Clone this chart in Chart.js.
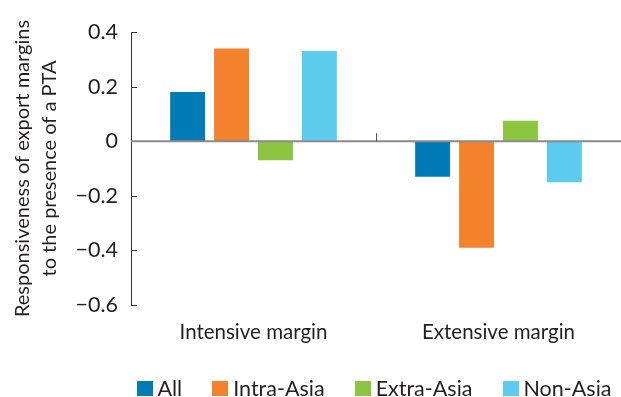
<!DOCTYPE html>
<html>
<head>
<meta charset="utf-8">
<script src="https://cdn.jsdelivr.net/npm/chart.js@4/dist/chart.umd.min.js"></script>
<style>
  html, body { margin: 0; padding: 0; background: #ffffff; }
  #wrap { width: 621px; height: 397px; position: relative; }
</style>
</head>
<body>
<div id="wrap"><canvas id="chart" width="621" height="397"></canvas></div>
<script>
// Responsiveness of export margins to a PTA, by trade partner group
const categories = ['Intensive margin', 'Extensive margin'];
const seriesNames = ['All', 'Intra-Asia', 'Extra-Asia', 'Non-Asia'];
const allValues = [0.18, -0.13];
const intraAsiaValues = [0.34, -0.39];
const extraAsiaValues = [-0.07, 0.075];
const nonAsiaValues = [0.33, -0.15];
const yTickValues = [0.4, 0.2, 0, -0.2, -0.4, -0.6];
const yTitleLines = ['Responsiveness of export margins', 'to the presence of a PTA'];

const seriesColors = ['#007bb6', '#f4812c', '#8cc540', '#5dcbee'];
const FONT = 'Lato, "DejaVu Sans", sans-serif';
const TEXT = '#231f20';

const seriesValues = [allValues, intraAsiaValues, extraAsiaValues, nonAsiaValues];

function fmtTick(v) {
  if (Math.abs(v) < 1e-9) return '0';
  return (v < 0 ? '\u2212' : '') + Math.abs(v).toFixed(1);
}

// Short inward tick marks on the value axis, the zero line and the category divider
const axisMarks = {
  id: 'axisMarks',
  afterDatasetsDraw(chart) {
    const { ctx, chartArea, scales: { x, y } } = chart;
    ctx.save();
    ctx.strokeStyle = '#333333';
    ctx.lineWidth = 1;
    y.ticks.forEach(t => {
      if (Math.abs(t.value) < 1e-9) return;
      const py = Math.round(y.getPixelForValue(t.value)) + 0.5;
      ctx.beginPath();
      ctx.moveTo(chartArea.left, py);
      ctx.lineTo(chartArea.left + 6, py);
      ctx.stroke();
    });
    const y0 = y.getPixelForValue(0);
    ctx.strokeStyle = '#8a8a8a';
    ctx.lineWidth = 2;
    ctx.beginPath();
    ctx.moveTo(chartArea.left, y0);
    ctx.lineTo(chartArea.right, y0);
    ctx.stroke();
    const xDiv = Math.round((x.getPixelForValue(0) + x.getPixelForValue(1)) / 2) + 0.5;
    ctx.strokeStyle = '#555555';
    ctx.lineWidth = 1;
    ctx.beginPath();
    ctx.moveTo(xDiv, y0);
    ctx.lineTo(xDiv, y0 - 8);
    ctx.stroke();
    ctx.restore();
  }
};

// Key row along the bottom edge
const bottomKey = {
  id: 'bottomKey',
  afterDraw(chart) {
    const { ctx, chartArea } = chart;
    ctx.save();
    ctx.font = '21.5px ' + FONT;
    const box = 16, boxGap = 5, itemGap = 30;
    const items = chart.data.datasets.map(d => ({
      label: d.label,
      color: d.backgroundColor,
      w: box + boxGap + ctx.measureText(d.label).width
    }));
    const total = items.reduce((s, it) => s + it.w, 0) + itemGap * (items.length - 1);
    let x = (chartArea.left + chartArea.right) / 2 - total / 2 - 2;
    const cy = chart.height - 8.5;
    items.forEach(it => {
      ctx.fillStyle = it.color;
      ctx.fillRect(Math.round(x), Math.round(cy - 7.5), box, 15);
      ctx.fillStyle = TEXT;
      ctx.textBaseline = 'middle';
      ctx.textAlign = 'left';
      ctx.fillText(it.label, x + box + boxGap, cy + 1);
      x += it.w + itemGap;
    });
    ctx.restore();
  }
};

new Chart(document.getElementById('chart'), {
  type: 'bar',
  data: {
    labels: categories,
    datasets: seriesNames.map((name, i) => ({
      label: name,
      data: seriesValues[i],
      backgroundColor: seriesColors[i],
      borderWidth: 0,
      categoryPercentage: 0.717,
      barPercentage: 0.795
    }))
  },
  options: {
    responsive: false,
    animation: false,
    devicePixelRatio: 1,
    layout: { padding: { top: 32, right: 0, bottom: 0, left: 0 } },
    plugins: {
      legend: { display: false },
      tooltip: { enabled: false },
      title: { display: false }
    },
    scales: {
      x: {
        grid: { display: false, drawTicks: false },
        border: { display: false },
        ticks: {
          color: TEXT,
          font: { family: FONT, size: 20.5 },
          padding: 15,
          maxRotation: 0
        },
        afterFit(scale) { scale.height = 92; }
      },
      y: {
        min: -0.6,
        max: 0.4,
        grid: { display: false, drawTicks: false },
        border: { display: true, color: '#333333', width: 1 },
        afterBuildTicks(scale) { scale.ticks = yTickValues.map(v => ({ value: v })); },
        ticks: {
          color: TEXT,
          font: { family: FONT, size: 21.5 },
          padding: 13,
          callback: v => fmtTick(v)
        },
        title: {
          display: true,
          text: yTitleLines,
          color: TEXT,
          font: { family: FONT, size: 20, lineHeight: 1.35 },
          padding: { top: 9.5, bottom: 0 }
        },
        afterFit(scale) { scale.width = 131; }
      }
    }
  },
  plugins: [axisMarks, bottomKey]
});
</script>
</body>
</html>
